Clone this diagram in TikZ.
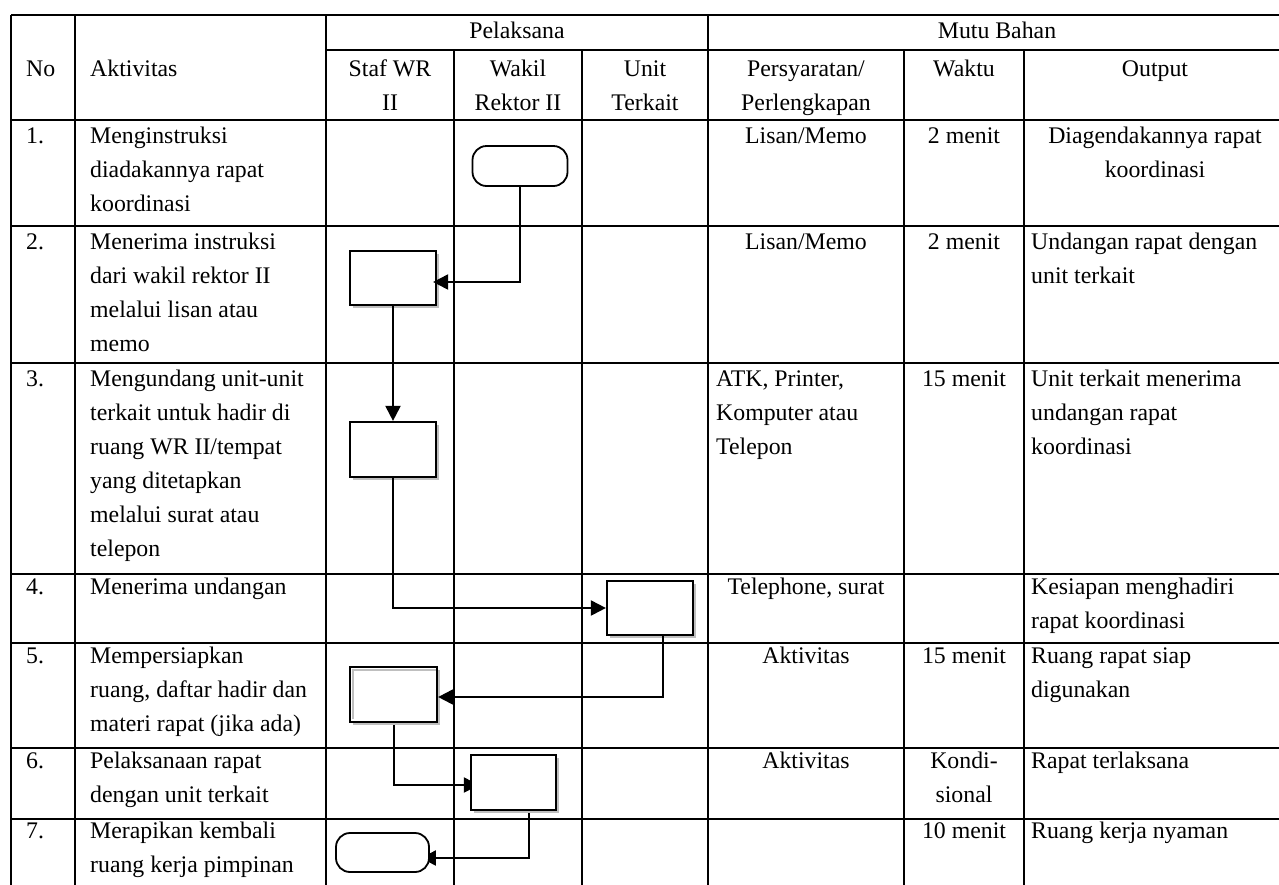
\documentclass[tikz,border=0pt]{standalone}
\usepackage{fontspec}
\setmainfont{Liberation Serif}
\usetikzlibrary{arrows.meta,shadows}
\pgfdeclarelayer{background}
\pgfsetlayers{background,main}
\newcommand\cellL[1]{\begin{tabular}[t]{@{}l@{}}#1\end{tabular}}
\newcommand\cellC[1]{\begin{tabular}[t]{@{}c@{}}#1\end{tabular}}
\begin{document}
\begin{tikzpicture}[x=1pt,y=-1pt,
  grid/.style={line width=1.8pt},
  tl/.style={anchor=base west, inner sep=0pt, font=\fontsize{23.8}{34}\selectfont},
  tc/.style={tl, anchor=base},
  procbox/.style={draw, line width=2.2pt, fill=white, minimum width=86pt, minimum height=54pt, inner sep=0pt,
    drop shadow={shadow xshift=3pt, shadow yshift=-3pt, fill=black!25, opacity=1}},
  termbox/.style={draw, line width=1.8pt, fill=white, rounded corners=14pt, minimum width=95pt, minimum height=40pt, inner sep=0pt},
  flow/.style={line width=2pt, -{Triangle[length=15pt,width=15pt]}}
]
\useasboundingbox (0,0) rectangle (1279,884);
\begin{pgfonlayer}{background}
\fill[white] (0,0) rectangle (1279,884);
\end{pgfonlayer}
\clip (0,0) rectangle (1279,884);

% table grid
\draw[grid] (11,15) -- (1295,15);
\draw[grid] (326,50) -- (1295,50);
\foreach \y in {120,226,363,574,643,748,819}
  \draw[grid] (11,\y) -- (1295,\y);
\foreach \x in {11,75,326,708}
  \draw[grid] (\x,15) -- (\x,900);
\foreach \x in {454,582,904,1024}
  \draw[grid] (\x,50) -- (\x,900);

% header
\node[tc] (hPel) at (517,38) {Pelaksana};
\node[tc] (hMutu) at (997,38) {Mutu Bahan};
\node[tl] (hNo) at (26,76) {No};
\node[tl] (hAkt) at (90,76) {Aktivitas};
\node[tc] (hStaf) at (390,76) {\cellC{Staf WR\\II}};
\node[tc] (hWakil) at (518,76) {\cellC{Wakil\\Rektor II}};
\node[tc] (hUnit) at (645,76) {\cellC{Unit\\Terkait}};
\node[tc] (hPers) at (806,76) {\cellC{Persyaratan/\\Perlengkapan}};
\node[tc] (hWaktu) at (964,76) {Waktu};
\node[tc] (hOut) at (1155,76) {Output};

% row 1
\node[tl] (n1) at (26,143) {1.};
\node[tl] (a1) at (90,143) {\cellL{Menginstruksi\\diadakannya rapat\\koordinasi}};
\node[tc] (p1) at (806,143) {Lisan/Memo};
\node[tc] (w1) at (964,143) {2 menit};
\node[tc] (o1) at (1155,143) {\cellC{Diagendakannya rapat\\koordinasi}};
% row 2
\node[tl] (n2) at (26,249) {2.};
\node[tl] (a2) at (90,249) {\cellL{Menerima instruksi\\dari wakil rektor II\\melalui lisan atau\\memo}};
\node[tc] (p2) at (806,249) {Lisan/Memo};
\node[tc] (w2) at (964,249) {2 menit};
\node[tl] (o2) at (1031,249) {\cellL{Undangan rapat dengan\\unit terkait}};
% row 3
\node[tl] (n3) at (26,386) {3.};
\node[tl] (a3) at (90,386) {\cellL{Mengundang unit-unit\\terkait untuk hadir di\\ruang WR II/tempat\\yang ditetapkan\\melalui surat atau\\telepon}};
\node[tl] (p3) at (716,386) {\cellL{ATK, Printer,\\Komputer atau\\Telepon}};
\node[tc] (w3) at (964,386) {15 menit};
\node[tl] (o3) at (1031,386) {\cellL{Unit terkait menerima\\undangan rapat\\koordinasi}};
% row 4
\node[tl] (n4) at (26,594) {4.};
\node[tl] (a4) at (90,594) {Menerima undangan};
\node[tc] (p4) at (806,594) {Telephone, surat};
\node[tl] (o4) at (1031,594) {\cellL{Kesiapan menghadiri\\rapat koordinasi}};
% row 5
\node[tl] (n5) at (26,663) {5.};
\node[tl] (a5) at (90,663) {\cellL{Mempersiapkan\\ruang, daftar hadir dan\\materi rapat (jika ada)}};
\node[tc] (p5) at (806,663) {Aktivitas};
\node[tc] (w5) at (964,663) {15 menit};
\node[tl] (o5) at (1031,663) {\cellL{Ruang rapat siap\\digunakan}};
% row 6
\node[tl] (n6) at (26,768) {6.};
\node[tl] (a6) at (90,768) {\cellL{Pelaksanaan rapat\\dengan unit terkait}};
\node[tc] (p6) at (806,768) {Aktivitas};
\node[tc] (w6) at (964,768) {\cellC{Kondi-\\sional}};
\node[tl] (o6) at (1031,768) {Rapat terlaksana};
% row 7
\node[tl] (n7) at (26,838) {7.};
\node[tl] (a7) at (90,838) {\cellL{Merapikan kembali\\ruang kerja pimpinan}};
\node[tc] (w7) at (964,838) {10 menit};
\node[tl] (o7) at (1031,838) {Ruang kerja nyaman};

% flow shapes
\node[termbox] (s1) at (520,166) {};
\node[procbox] (b2) at (393,278) {};
\node[procbox, minimum height=55pt] (b3) at (393,449.5) {};
\node[procbox] (b4) at (650,608) {};
\node[procbox, minimum width=87pt, minimum height=55pt] (b5) at (393.5,694.5) {};
\node[procbox, minimum width=85pt, minimum height=55pt] (b6) at (513.5,782.5) {};
\node[termbox, minimum width=93pt, minimum height=39pt] (s7) at (382.5,852.5) {};
\draw[black!25, line width=1.5pt] ([xshift=4pt,yshift=4pt]b5.south west) |- ([xshift=-2pt,yshift=-4pt]b5.north east);

% connectors
\draw[flow, shorten >=-4pt] (s1.south) |- ([yshift=-4pt]b2.east);
\draw[flow] (b2.south) -- (b3.north);
\draw[flow] (b3.south) |- (b4.west);
\draw[flow] ([xshift=13pt]b4.south) |- ([yshift=-2.5pt]b5.east);
\begin{pgfonlayer}{background}
\draw[flow, shorten >=-9pt] (b5.south) |- ([yshift=-2.5pt]b6.west);
\draw[flow, shorten >=-9pt] ([xshift=15pt]b6.south) |- ([yshift=-5.5pt]s7.east);
\end{pgfonlayer}
\end{tikzpicture}
\end{document}
